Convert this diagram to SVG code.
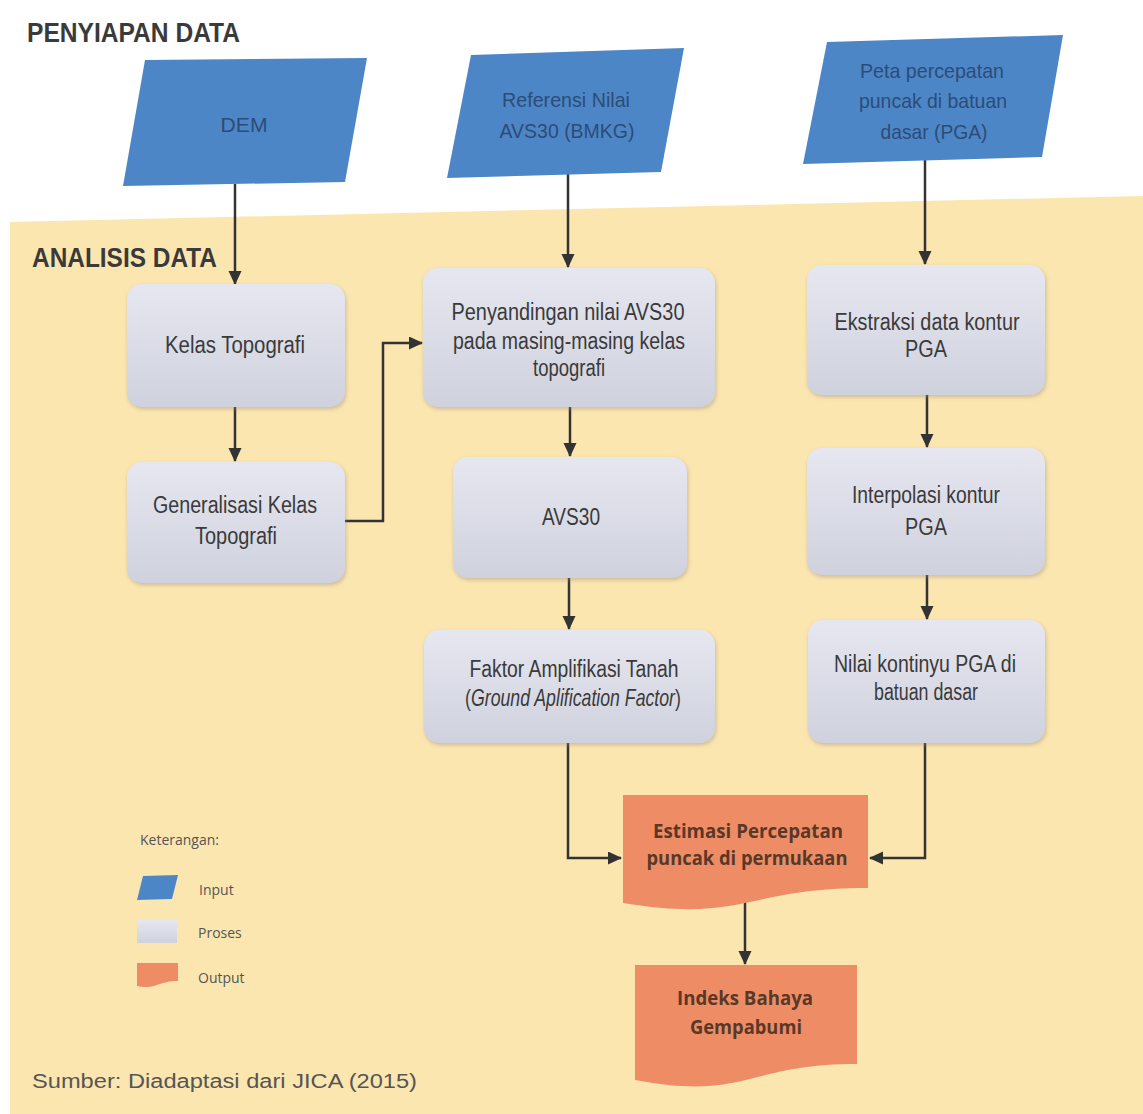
<svg xmlns="http://www.w3.org/2000/svg" width="1143" height="1114" viewBox="0 0 1143 1114">
<style>
.hdr{font-family:"Liberation Sans",Arial,sans-serif;font-weight:bold;font-size:27px;fill:#3a3a3a}
.inp{fill:#4d86c6}
.inpt{font-family:"Liberation Sans",Arial,sans-serif;font-size:21px;fill:#2c4c78;text-anchor:middle}
.proc{fill:url(#pg);filter:url(#sh)}
.pt{font-family:"Liberation Sans",Arial,sans-serif;font-size:23px;fill:#3a3a3a;text-anchor:middle}
.out{fill:#ee8d65}
.ot{font-family:"Open Sans","Liberation Sans",sans-serif;font-weight:bold;font-size:19px;fill:#5a3828;text-anchor:middle}
.lg{font-family:"Open Sans","Liberation Sans",sans-serif;font-size:14px;fill:#555}
.src{font-family:"Liberation Sans",Arial,sans-serif;font-size:20px;fill:#555}
.conn{fill:none;stroke:#333;stroke-width:2.5;marker-end:url(#ah)}
</style>
<defs>
<linearGradient id="pg" x1="0" y1="0" x2="0" y2="1">
<stop offset="0" stop-color="#e6e7f0"/>
<stop offset="1" stop-color="#cfd1dd"/>
</linearGradient>
<filter id="sh" x="-10%" y="-10%" width="120%" height="130%">
<feDropShadow dx="1" dy="2" stdDeviation="2" flood-color="#9a8f7a" flood-opacity="0.5"/>
</filter>
<marker id="ah" markerUnits="userSpaceOnUse" markerWidth="14" markerHeight="14" refX="13" refY="6.5" orient="auto">
<path d="M0,0 L14,6.5 L0,13 z" fill="#333"/>
</marker>
</defs>
<rect x="0" y="0" width="1143" height="1114" fill="#ffffff"/>
<polygon points="10,222 1143,196 1143,1114 10,1114" fill="#fce6b0"/>
<text class="hdr" x="27" y="42" textLength="213" lengthAdjust="spacingAndGlyphs">PENYIAPAN DATA</text>
<text class="hdr" x="32" y="267" textLength="185" lengthAdjust="spacingAndGlyphs">ANALISIS DATA</text>

<g id="connectors">
<path class="conn" d="M235,184 V284"/>
<path class="conn" d="M568,173 V267"/>
<path class="conn" d="M925,160 V264"/>
<path class="conn" d="M235,407 V461"/>
<path class="conn" d="M345,521 H383 V343 H422"/>
<path class="conn" d="M570,407 V456"/>
<path class="conn" d="M569,578 V629"/>
<path class="conn" d="M927,395 V447"/>
<path class="conn" d="M927,575 V619"/>
<path class="conn" d="M568,743 V858 H621"/>
<path class="conn" d="M925,743 V858 H870"/>
<path class="conn" d="M745,897 V964"/>
</g>

<g id="dem">
<polygon class="inp" points="145,60 367,58 345,182 123,186"/>
<text class="inpt" x="244" y="132" textLength="47" lengthAdjust="spacingAndGlyphs">DEM</text>
</g>
<g id="referensi">
<polygon class="inp" points="471,55 684,48 661,172 447,178"/>
<text class="inpt" x="566" y="107" textLength="128" lengthAdjust="spacingAndGlyphs">Referensi Nilai</text>
<text class="inpt" x="567" y="138" textLength="135" lengthAdjust="spacingAndGlyphs">AVS30 (BMKG)</text>
</g>
<g id="pga">
<polygon class="inp" points="827,42 1063,35 1042,157 803,164"/>
<text class="inpt" x="932" y="78" textLength="144" lengthAdjust="spacingAndGlyphs">Peta percepatan</text>
<text class="inpt" x="933" y="108" textLength="148" lengthAdjust="spacingAndGlyphs">puncak di batuan</text>
<text class="inpt" x="934" y="139" textLength="107" lengthAdjust="spacingAndGlyphs">dasar (PGA)</text>
</g>

<g id="kelas">
<rect class="proc" x="127" y="284" width="218" height="123" rx="15"/>
<text class="pt" x="235" y="353" textLength="140" lengthAdjust="spacingAndGlyphs">Kelas Topografi</text>
</g>
<g id="generalisasi">
<rect class="proc" x="127" y="462" width="218" height="121" rx="15"/>
<text class="pt" x="235" y="513" textLength="164" lengthAdjust="spacingAndGlyphs">Generalisasi Kelas</text>
<text class="pt" x="236" y="544" textLength="82" lengthAdjust="spacingAndGlyphs">Topografi</text>
</g>
<g id="penyandingan">
<rect class="proc" x="423" y="268" width="292" height="139" rx="15"/>
<text class="pt" x="568" y="320" textLength="233" lengthAdjust="spacingAndGlyphs">Penyandingan nilai AVS30</text>
<text class="pt" x="569" y="349" textLength="232" lengthAdjust="spacingAndGlyphs">pada masing-masing kelas</text>
<text class="pt" x="569" y="376" textLength="72" lengthAdjust="spacingAndGlyphs">topografi</text>
</g>
<g id="avs30">
<rect class="proc" x="453" y="457" width="234" height="121" rx="15"/>
<text class="pt" x="571" y="525" textLength="58" lengthAdjust="spacingAndGlyphs">AVS30</text>
</g>
<g id="faktor">
<rect class="proc" x="424" y="630" width="291" height="113" rx="15"/>
<text class="pt" x="574" y="677" textLength="209" lengthAdjust="spacingAndGlyphs">Faktor Amplifikasi Tanah</text>
<text class="pt" transform="translate(573,706) scale(0.77,1)" x="0" y="0">(<tspan font-style="italic">Ground Aplification Factor</tspan>)</text>
</g>
<g id="ekstraksi">
<rect class="proc" x="807" y="265" width="238" height="130" rx="15"/>
<text class="pt" x="927" y="330" textLength="185" lengthAdjust="spacingAndGlyphs">Ekstraksi data kontur</text>
<text class="pt" x="926" y="357" textLength="42" lengthAdjust="spacingAndGlyphs">PGA</text>
</g>
<g id="interpolasi">
<rect class="proc" x="807" y="448" width="238" height="127" rx="15"/>
<text class="pt" x="926" y="503" textLength="148" lengthAdjust="spacingAndGlyphs">Interpolasi kontur</text>
<text class="pt" x="926" y="535" textLength="42" lengthAdjust="spacingAndGlyphs">PGA</text>
</g>
<g id="nilai">
<rect class="proc" x="808" y="620" width="237" height="123" rx="15"/>
<text class="pt" x="925" y="672" textLength="182" lengthAdjust="spacingAndGlyphs">Nilai kontinyu PGA di</text>
<text class="pt" x="926" y="700" textLength="104" lengthAdjust="spacingAndGlyphs">batuan dasar</text>
</g>

<g id="estimasi">
<path class="out" d="M623,795 H868 V888 C745,888 745,923 623,903 Z"/>
<text class="ot" x="748" y="838" textLength="190" lengthAdjust="spacingAndGlyphs">Estimasi Percepatan</text>
<text class="ot" x="747" y="865" textLength="201" lengthAdjust="spacingAndGlyphs">puncak di permukaan</text>
</g>
<g id="indeks">
<path class="out" d="M635,965 H857 V1064 C746,1064 746,1101 635,1080 Z"/>
<text class="ot" x="745" y="1005" textLength="136" lengthAdjust="spacingAndGlyphs">Indeks Bahaya</text>
<text class="ot" x="746" y="1034" textLength="112" lengthAdjust="spacingAndGlyphs">Gempabumi</text>
</g>

<g id="legend">
<text class="lg" x="140" y="845">Keterangan:</text>
<polygon class="inp" points="143,876 178,875 172,899 137,900"/>
<text class="lg" x="199" y="895">Input</text>
<rect x="137" y="920" width="40" height="23" fill="url(#pg)"/>
<text class="lg" x="198" y="938">Proses</text>
<path class="out" d="M137,963 H178 V981 C157,981 157,990 137,986 Z"/>
<text class="lg" x="198" y="983">Output</text>
</g>
<text class="src" x="32" y="1088" textLength="385" lengthAdjust="spacingAndGlyphs">Sumber: Diadaptasi dari JICA (2015)</text>
</svg>
